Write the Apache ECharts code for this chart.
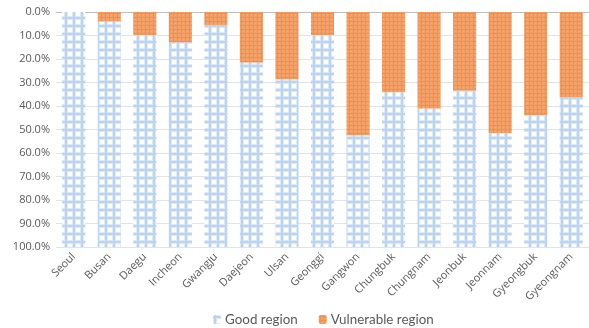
<!DOCTYPE html>
<html>
<head>
<meta charset="utf-8">
<script src="https://cdn.jsdelivr.net/npm/echarts@6/dist/echarts.min.js"></script>
<style>
  html, body { margin: 0; padding: 0; background: #fff; }
  #chart { width: 589px; height: 328px; }
</style>
</head>
<body>
<div id="chart"></div>
<script>
// Share of each region by class (percent); vulnerable share stacks from the top.
const regions = ['Seoul', 'Busan', 'Daegu', 'Incheon', 'Gwangju', 'Daejeon', 'Ulsan', 'Geonggi',
  'Gangwon', 'Chungbuk', 'Chungnam', 'Jeonbuk', 'Jeonnam', 'Gyeongbuk', 'Gyeongnam'];
const vulnerable = [0, 4.1, 9.8, 13.0, 5.5, 21.6, 28.7, 9.8, 52.6, 34.3, 41.2, 33.5, 51.6, 43.8, 36.2];
const good = [100, 95.9, 90.2, 87.0, 94.5, 78.4, 71.3, 90.2, 47.4, 65.7, 58.8, 66.5, 48.4, 56.2, 63.8];

// Grid-patterned fills: a core line with a softer halo on each side
function gridPattern(bg, core, halo, size, lw) {
  const c = document.createElement('canvas');
  c.width = size; c.height = size;
  const g = c.getContext('2d');
  g.fillStyle = bg; g.fillRect(0, 0, size, size);
  g.fillStyle = halo;
  g.fillRect(0, 0, size, lw + 2);
  g.fillRect(0, 0, lw + 2, size);
  g.fillStyle = core;
  g.fillRect(0, 1, size, lw);
  g.fillRect(1, 0, lw, size);
  return c;
}
const bluePattern = { image: gridPattern('#ffffff', '#bcd5ee', '#dde9f6', 8, 2), repeat: 'repeat' };
const orangePattern = { image: gridPattern('#f6ab74', '#f0904f', '#f4a066', 4, 1), repeat: 'repeat' };

const chart = echarts.init(document.getElementById('chart'), null, { renderer: 'canvas' });
const font = 'Open Sans, Liberation Sans, sans-serif';

chart.setOption({
  animation: false,
  grid: { left: 56, top: 12, width: 536, bottom: 81, containLabel: false },
  legend: {
    data: ['Good region', 'Vulnerable region'],
    top: 308,
    left: 208,
    itemWidth: 8,
    itemHeight: 9,
    itemGap: 21,
    textStyle: { color: '#595959', fontSize: 13.4, fontFamily: 'Lato, Open Sans, sans-serif', padding: [0, 0, 0, -1] }
  },
  xAxis: {
    type: 'category',
    data: regions,
    axisLine: { lineStyle: { color: '#bfbfbf' } },
    axisTick: { show: false },
    axisLabel: { rotate: 45, color: '#595959', fontSize: 11, fontFamily: font, interval: 0, margin: 8 }
  },
  yAxis: {
    type: 'value',
    inverse: true,
    min: 0,
    max: 100,
    interval: 10,
    axisLine: { show: false },
    axisTick: { show: false },
    splitLine: { lineStyle: { color: '#e3e3e3' } },
    axisLabel: { color: '#595959', fontSize: 11, fontFamily: font, margin: 6,
      formatter: v => v.toFixed(1) + '%' }
  },
  series: [
    {
      name: 'Vulnerable region',
      type: 'bar',
      stack: 'share',
      barWidth: '65%',
      data: vulnerable,
      itemStyle: { color: orangePattern }
    },
    {
      name: 'Good region',
      type: 'bar',
      stack: 'share',
      barWidth: '65%',
      data: good,
      itemStyle: { color: bluePattern }
    }
  ]
});
</script>
</body>
</html>
